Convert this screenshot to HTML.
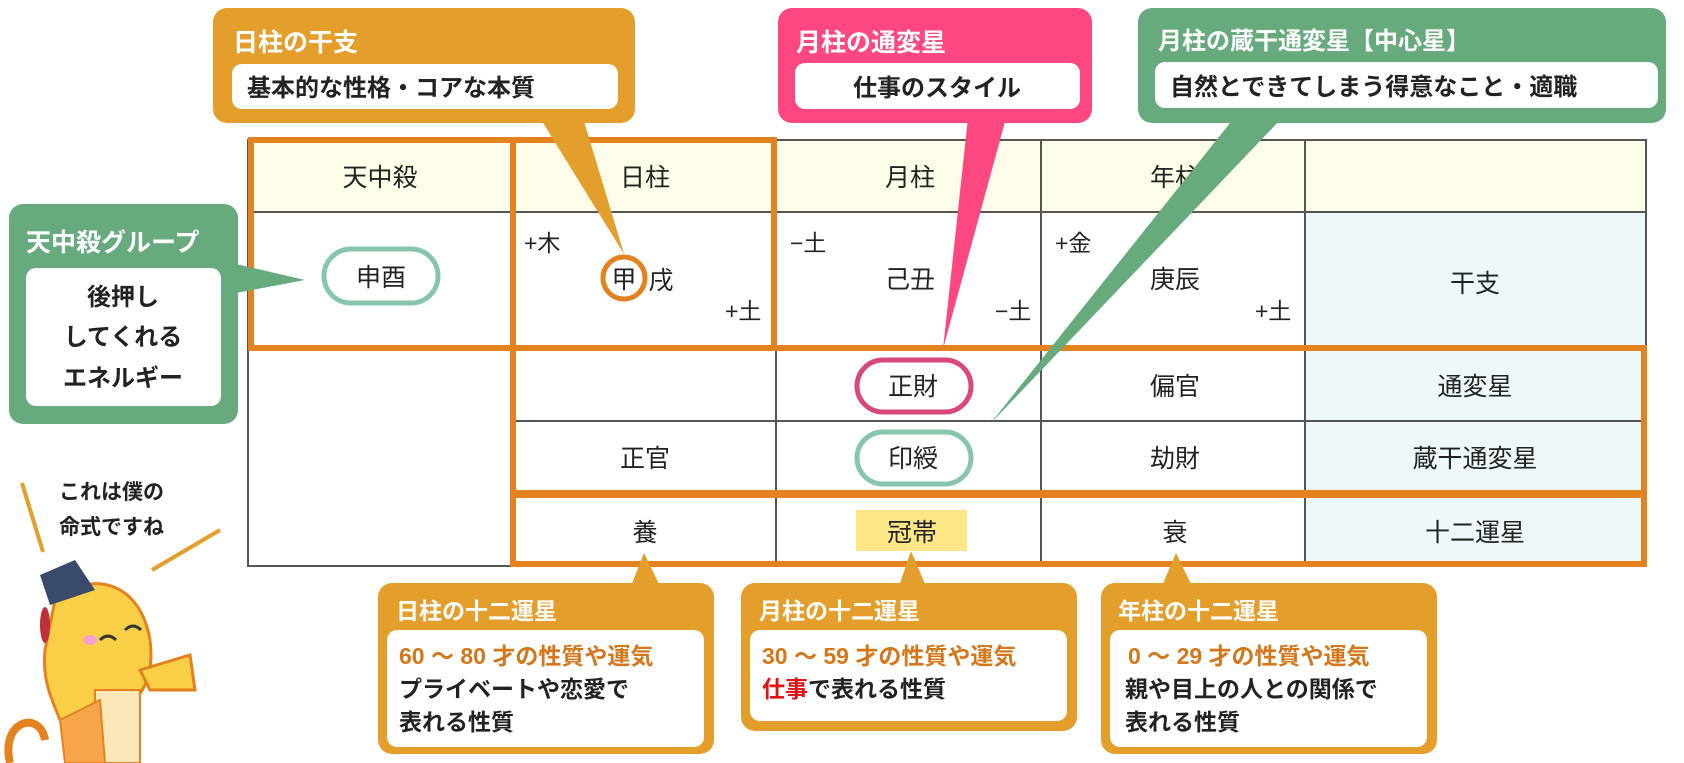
<!DOCTYPE html>
<html><head><meta charset="utf-8"><style>
html,body{margin:0;padding:0;background:#fff;width:1684px;height:763px;overflow:hidden}
svg text{font-family:"Liberation Sans","Noto Sans CJK JP",sans-serif}
.b{font-weight:bold}
</style></head><body>
<svg width="1684" height="763" viewBox="0 0 1684 763" xmlns="http://www.w3.org/2000/svg">
<rect x="248" y="140" width="1398" height="72" fill="#fdfde9"/>
<rect x="1305" y="212" width="341" height="354" fill="#eef7fa"/>
<g stroke="#555" stroke-width="2" fill="none">
<rect x="248" y="140" width="1398" height="426"/>
<line x1="248" y1="212" x2="1646" y2="212"/>
<line x1="513" y1="140" x2="513" y2="566"/>
<line x1="776" y1="140" x2="776" y2="566"/>
<line x1="1041" y1="140" x2="1041" y2="566"/>
<line x1="1305" y1="140" x2="1305" y2="566"/>
<line x1="513" y1="421" x2="1646" y2="421"/>
</g>
<rect x="249" y="349" width="263" height="216" fill="#fff"/>
<line x1="248" y1="349" x2="248" y2="566" stroke="#555" stroke-width="2"/>
<line x1="248" y1="566" x2="513" y2="566" stroke="#555" stroke-width="2"/>
<g stroke="#e3821f" stroke-width="6" fill="none">
<rect x="251" y="140" width="523" height="208"/>
<line x1="513" y1="140" x2="513" y2="348"/>
<rect x="513" y="348" width="1131" height="216"/>
<line x1="513" y1="494" x2="1644" y2="494" stroke-width="8"/>
</g>
<rect x="324" y="249" width="114" height="54" rx="27" fill="#fff" stroke="#87c5ad" stroke-width="5"/>
<rect x="857" y="360" width="114" height="52" rx="26" fill="#fff" stroke="#d9487d" stroke-width="5"/>
<rect x="857" y="432" width="114" height="52" rx="26" fill="#fff" stroke="#87c5ad" stroke-width="5"/>
<rect x="856" y="510" width="111" height="41" fill="#fbe785"/>
<circle cx="624" cy="278" r="21" fill="#fff" stroke="#e3821f" stroke-width="5"/>
<g font-size="25" fill="#222" text-anchor="middle">
<text x="380" y="186">天中殺</text>
<text x="645" y="186">日柱</text>
<text x="910" y="186">月柱</text>
<text x="1175" y="186">年柱</text>
<text x="381" y="286">申酉</text>
<text x="624" y="288">甲</text><text x="661" y="289">戌</text>
<text x="910" y="288">己丑</text>
<text x="1175" y="288">庚辰</text>
<text x="1475" y="292">干支</text>
<text x="913" y="395">正財</text><text x="1175" y="395">偏官</text><text x="1475" y="395">通変星</text>
<text x="645" y="467">正官</text><text x="913" y="467">印綬</text><text x="1175" y="467">劫財</text><text x="1475" y="467">蔵干通変星</text>
<text x="645" y="541">養</text><text x="912" y="541">冠帯</text><text x="1175" y="541">衰</text><text x="1475" y="541">十二運星</text>
</g>
<g font-size="23" fill="#222">
<text x="524" y="251">+木</text><text x="725" y="319">+土</text>
<text x="790" y="251">−土</text><text x="995" y="319">−土</text>
<text x="1055" y="251">+金</text><text x="1255" y="319">+土</text>
</g>
<polygon points="540,118 583,118 624,254" fill="#e39e2b"/>
<rect x="213" y="8" width="422" height="115" rx="14" fill="#e39e2b"/>
<rect x="232" y="64" width="386" height="45" rx="10" fill="#fff"/>
<text x="233" y="51" font-size="25" class="b" fill="#fff">日柱の干支</text>
<text x="247" y="96" font-size="24" class="b" fill="#222">基本的な性格・コアな本質</text>

<polygon points="968,118 1006,118 943,349" fill="#fd4781"/>
<rect x="778" y="8" width="314" height="115" rx="14" fill="#fd4781"/>
<rect x="795" y="63" width="285" height="46" rx="10" fill="#fff"/>
<text x="796" y="51" font-size="25" class="b" fill="#fff">月柱の通変星</text>
<text x="937" y="96" font-size="24" class="b" fill="#222" text-anchor="middle">仕事のスタイル</text>

<polygon points="1234,118 1282,118 990,424" fill="#66aa7e"/>
<rect x="1138" y="8" width="528" height="115" rx="14" fill="#66aa7e"/>
<rect x="1155" y="62" width="503" height="46" rx="10" fill="#fff"/>
<text x="1158" y="49" font-size="24" class="b" fill="#fff">月柱の蔵干通変星【中心星】</text>
<text x="1170" y="95" font-size="24" class="b" fill="#222">自然とできてしまう得意なこと・適職</text>

<polygon points="236,264 236,293 305,280" fill="#66aa7e"/>
<rect x="9" y="204" width="229" height="220" rx="14" fill="#66aa7e"/>
<rect x="26" y="268" width="195" height="138" rx="10" fill="#fff"/>
<text x="26" y="251" font-size="25" class="b" fill="#fff">天中殺グループ</text>
<g font-size="24" class="b" fill="#222" text-anchor="middle">
<text x="123" y="305">後押し</text><text x="123" y="345">してくれる</text><text x="123" y="386">エネルギー</text>
</g>
<g fill="#e39e2b">
<polygon points="631,586 660,586 644,553"/>
<polygon points="899,586 926,586 911,551"/>
<polygon points="1162,586 1192,586 1176,553"/>
<rect x="378" y="583" width="336" height="171" rx="14"/>
<rect x="741" y="583" width="336" height="148" rx="14"/>
<rect x="1101" y="583" width="336" height="171" rx="14"/>
</g>
<g fill="#fff">
<rect x="387" y="630" width="317" height="117" rx="10"/>
<rect x="750" y="630" width="317" height="91" rx="10"/>
<rect x="1110" y="630" width="317" height="117" rx="10"/>
</g>
<g font-size="23" class="b">
<text x="396" y="619" fill="#fff">日柱の十二運星</text>
<text x="399" y="664" fill="#d4771a">60 ～ 80 才の性質や運気</text>
<text x="399" y="697" fill="#222">プライベートや恋愛で</text>
<text x="399" y="730" fill="#222">表れる性質</text>
<text x="759" y="619" fill="#fff">月柱の十二運星</text>
<text x="762" y="664" fill="#d4771a">30 ～ 59 才の性質や運気</text>
<text x="762" y="697" fill="#222"><tspan fill="#e01515">仕事</tspan>で表れる性質</text>
<text x="1118" y="619" fill="#fff">年柱の十二運星</text>
<text x="1128" y="664" fill="#d4771a">0 ～ 29 才の性質や運気</text>
<text x="1125" y="697" fill="#222">親や目上の人との関係で</text>
<text x="1125" y="730" fill="#222">表れる性質</text>
</g>
<g font-size="21" fill="#222" class="b">
<text x="59" y="499">これは僕の</text><text x="59" y="534">命式ですね</text>
</g>
<line x1="22" y1="483" x2="43" y2="552" stroke="#e39e2b" stroke-width="4"/>
<line x1="220" y1="530" x2="152" y2="570" stroke="#e39e2b" stroke-width="4"/>
<path d="M55,600 C90,570 140,580 150,640 C155,680 140,700 120,710 L120,763 L70,763 C70,720 40,700 45,650 Z" fill="#f8cf47" stroke="#e3821f" stroke-width="3"/>
<path d="M140,670 L190,655 L195,690 L150,690 Z" fill="#f8cf47" stroke="#e3821f" stroke-width="3"/>
<rect x="95" y="690" width="45" height="73" fill="#fbe7b8" stroke="#e3821f" stroke-width="2"/>
<path d="M10,763 C0,720 40,710 45,740" fill="none" stroke="#e3821f" stroke-width="8"/>
<path d="M60,720 L100,700 L105,763 L65,763 Z" fill="#f6a54a" stroke="#e3821f" stroke-width="2"/>
<polygon points="40,575 75,560 95,590 50,605" fill="#3a4a6a"/>
<ellipse cx="45" cy="625" rx="5" ry="18" fill="#c0303a"/>
<path d="M100,640 q8,-8 16,0 M125,630 q8,-8 16,0" stroke="#333" stroke-width="3" fill="none"/>
<ellipse cx="90" cy="640" rx="7" ry="5" fill="#f4a0d0"/>
</svg>
</body></html>
